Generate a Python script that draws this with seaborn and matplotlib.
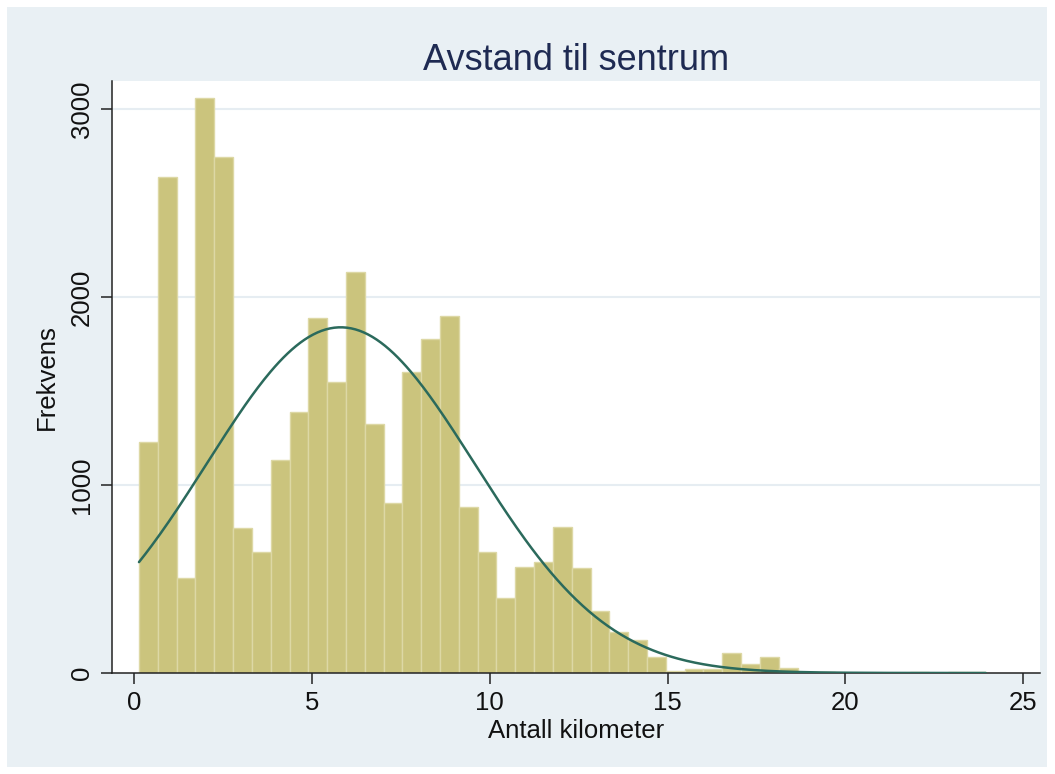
import numpy as np
import pandas as pd
import seaborn as sns
import matplotlib
matplotlib.use("Agg")
import matplotlib.pyplot as plt
from matplotlib.patches import Rectangle

# Histogram of distance to the city centre (km), 45 equal-width bins
bin_start = 0.14
bin_width = 0.529
counts = [1230, 2640, 505, 3060, 2745, 770, 645, 1135, 1390, 1890,
          1550, 2135, 1325, 905, 1600, 1775, 1900, 885, 645, 400,
          565, 590, 778, 560, 330, 218, 176, 85, 8, 20,
          20, 105, 48, 85, 27, 5, 3, 2, 1, 1,
          2, 5, 2, 3, 3]
# Fitted normal distribution parameters (km)
norm_mean = 5.81
norm_sd = 3.76

x_ticks = [0, 5, 10, 15, 20, 25]
y_ticks = [0, 1000, 2000, 3000]
title = "Avstand til sentrum"
x_label = "Antall kilometer"
y_label = "Frekvens"

edges = bin_start + bin_width * np.arange(len(counts) + 1)
centers = (edges[:-1] + edges[1:]) / 2
df = pd.DataFrame({"km": centers, "n": counts})

# Normal density scaled to frequency
total = float(np.sum(counts))
xs = np.linspace(edges[0], edges[-1], 400)
ys = total * bin_width * np.exp(-0.5 * ((xs - norm_mean) / norm_sd) ** 2) / (norm_sd * np.sqrt(2 * np.pi))
curve = pd.DataFrame({"km": xs, "freq": ys})

sns.set_theme(style="white")
plt.rcParams["font.family"] = ["Liberation Sans", "DejaVu Sans"]

W, H = 1055, 774
fig = plt.figure(figsize=(W / 100, H / 100), dpi=100)
fig.patch.set_facecolor("white")
# light graph-region panel inside a thin white margin
fig.patches.append(Rectangle((7 / W, 7 / H), (1047 - 7) / W, (767 - 7) / H,
                             transform=fig.transFigure, facecolor="#e9f0f4",
                             edgecolor="none", zorder=-5))

ax = fig.add_axes([112 / W, (H - 673) / H, (1040 - 112) / W, (673 - 81) / H])
ax.set_facecolor("white")
ax.set_zorder(2)

sns.histplot(data=df, x="km", weights="n", bins=edges.tolist(), ax=ax,
             color="#cbc47d", edgecolor="#ddd8a5", linewidth=1.0, alpha=1.0,
             zorder=2)
sns.lineplot(data=curve, x="km", y="freq", ax=ax, color="#2b6a5c",
             linewidth=1.8, zorder=3)

xmin = (112 - 134) / 35.57
xmax = (1040 - 134) / 35.57
ax.set_xlim(xmin, xmax)
ax.set_ylim(0, 3150)

ax.set_xticks(x_ticks)
ax.set_yticks(y_ticks)
ax.set_xticklabels([str(v) for v in x_ticks])
ax.set_yticklabels([str(v) for v in y_ticks], rotation=90, va="center")

for v in y_ticks[1:]:
    ax.axhline(v, color="#e6edf2", linewidth=1.5, zorder=1)

for side in ["top", "right"]:
    ax.spines[side].set_visible(False)
for side in ["left", "bottom"]:
    ax.spines[side].set_color("#222222")
    ax.spines[side].set_linewidth(1.1)

ax.tick_params(axis="both", which="major", direction="out", length=8,
               width=1.1, color="#222222", labelsize=18.5, labelcolor="#111111",
               pad=5, left=True, bottom=True)

ax.set_xlabel(x_label, fontsize=18.5, color="#111111", labelpad=3)
ax.set_ylabel(y_label, fontsize=18.5, color="#111111", labelpad=8)
fig.text(576 / W, 1 - 70 / H, title, ha="center", va="baseline",
         fontsize=26, color="#1e2a52")

fig.savefig("out.png", dpi=100, facecolor=fig.get_facecolor())
